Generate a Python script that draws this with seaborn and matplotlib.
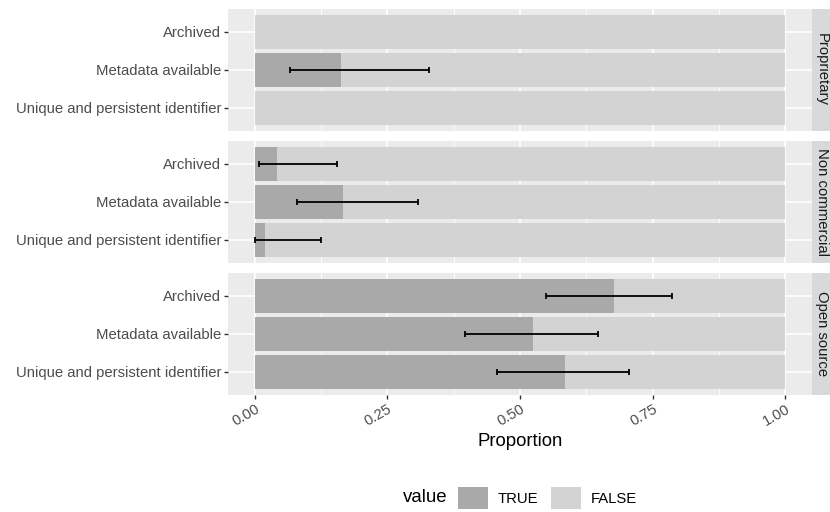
import numpy as np
import pandas as pd
import matplotlib
matplotlib.use("Agg")
import matplotlib.pyplot as plt
import seaborn as sns
from matplotlib.patches import Patch
from matplotlib.ticker import FixedLocator

# ---------------- data ----------------
licenses = ["Proprietary", "Non commercial", "Open source"]
criteria = ["Archived", "Metadata available", "Unique and persistent identifier"]

true_proprietary = [0.0, 0.163, 0.0]
true_noncommercial = [0.042, 0.166, 0.020]
true_opensource = [0.678, 0.524, 0.585]

ci_low_proprietary = [np.nan, 0.066, np.nan]
ci_high_proprietary = [np.nan, 0.328, np.nan]
ci_low_noncommercial = [0.007, 0.079, 0.0]
ci_high_noncommercial = [0.155, 0.308, 0.125]
ci_low_opensource = [0.549, 0.396, 0.456]
ci_high_opensource = [0.786, 0.648, 0.705]

x_ticks = [0.0, 0.25, 0.5, 0.75, 1.0]
x_tick_labels = ["0.00", "0.25", "0.50", "0.75", "1.00"]
legend_labels = ["TRUE", "FALSE"]

rows = []
for lic, t, lo, hi in [
    ("Proprietary", true_proprietary, ci_low_proprietary, ci_high_proprietary),
    ("Non commercial", true_noncommercial, ci_low_noncommercial, ci_high_noncommercial),
    ("Open source", true_opensource, ci_low_opensource, ci_high_opensource),
]:
    for c, tv, l, h in zip(criteria, t, lo, hi):
        rows.append({"license": lic, "criterion": c, "TRUE": tv,
                     "FALSE": 1 - tv, "lo": l, "hi": h})
df = pd.DataFrame(rows)
df["stack_total"] = df["TRUE"] + df["FALSE"]

# ---------------- style ----------------
FONT = ["Liberation Sans", "DejaVu Sans"]
plt.rcParams["font.family"] = FONT
TRUE_C = "#A9A9A9"
FALSE_C = "#D3D3D3"
PANEL_BG = "#EBEBEB"
STRIP_BG = "#D9D9D9"
AX_TXT = "#4D4D4D"
TICK_C = "#333333"
SMALL = 10.7
LARGE = 13.4

W, H = 830, 512
fig = plt.figure(figsize=(W / 100, H / 100), dpi=100)

left_px, right_px = 228.3, 811.7
panel_h = 121.6
tops = [9.2, 141.2, 273.2]

for i, (lic, top) in enumerate(zip(licenses, tops)):
    ax = fig.add_axes([left_px / W, 1 - (top + panel_h) / H,
                       (right_px - left_px) / W, panel_h / H])
    ax.set_facecolor(PANEL_BG)
    sub = df[df["license"] == lic]
    sns.barplot(data=sub, y="criterion", x="stack_total", order=criteria,
                color=FALSE_C, width=0.9, saturation=1, linewidth=0,
                errorbar=None, orient="h", ax=ax)
    sns.barplot(data=sub, y="criterion", x="TRUE", order=criteria,
                color=TRUE_C, width=0.9, saturation=1, linewidth=0,
                errorbar=None, orient="h", ax=ax)
    ok = sub["lo"].notna().to_numpy()
    pos = np.arange(len(criteria))[ok]
    tv = sub["TRUE"].to_numpy()[ok]
    lo = sub["lo"].to_numpy()[ok]
    hi = sub["hi"].to_numpy()[ok]
    ax.errorbar(x=tv, y=pos, xerr=[tv - lo, hi - tv], fmt="none",
                ecolor="black", elinewidth=1.3, capsize=2.0, capthick=1.3,
                zorder=5)

    ax.set_xlim(-0.05, 1.05)
    ax.set_ylim(2.6, -0.6)
    ax.set_xlabel("")
    ax.set_ylabel("")
    for s in ax.spines.values():
        s.set_visible(False)
    ax.set_axisbelow(True)
    ax.xaxis.set_major_locator(FixedLocator(x_ticks))
    ax.xaxis.set_minor_locator(FixedLocator([0.125, 0.375, 0.625, 0.875]))
    ax.grid(which="major", axis="both", color="white", linewidth=1.2)
    ax.grid(which="minor", axis="x", color="white", linewidth=0.6)
    ax.tick_params(axis="y", which="major", length=3.2, width=1.0,
                   color=TICK_C, labelcolor=AX_TXT, labelsize=SMALL, pad=2)
    ax.tick_params(axis="x", which="minor", length=0)
    if i < 2:
        ax.tick_params(axis="x", which="major", length=0, labelbottom=False)
    else:
        ax.tick_params(axis="x", which="major", length=3.2, width=1.0,
                       color=TICK_C, labelcolor=AX_TXT, labelsize=SMALL, pad=2)
        ax.set_xticks(x_ticks)
        ax.set_xticklabels(x_tick_labels, rotation=30, ha="right",
                           va="top", rotation_mode="anchor")
        ax.set_xlabel("Proportion", fontsize=LARGE, color="black", labelpad=3)

    # facet strip
    sax = fig.add_axes([right_px / W, 1 - (top + panel_h) / H,
                        28 / W, panel_h / H])
    sax.set_facecolor(STRIP_BG)
    sax.set_xticks([])
    sax.set_yticks([])
    for s in sax.spines.values():
        s.set_visible(False)
    sax.text((821.5 - right_px) / 28, 0.5, lic, rotation=-90, ha="center",
             va="center", fontsize=SMALL, color="#1A1A1A",
             transform=sax.transAxes)

# legend
handles = [Patch(facecolor=TRUE_C, edgecolor="none"),
           Patch(facecolor=FALSE_C, edgecolor="none")]
px_per_em = SMALL * 100 / 72
fig.legend(handles, legend_labels, loc="center left",
           bbox_to_anchor=(458 / W, 1 - 498 / H), ncol=2, frameon=False,
           fontsize=SMALL, handlelength=30 / px_per_em,
           handleheight=28 / px_per_em, handletextpad=10 / px_per_em,
           columnspacing=12 / px_per_em, borderpad=0, borderaxespad=0)
fig.text(403 / W, 1 - 498 / H, "value", fontsize=LARGE, color="black",
         ha="left", va="center")

fig.savefig("out.png", dpi=100)
